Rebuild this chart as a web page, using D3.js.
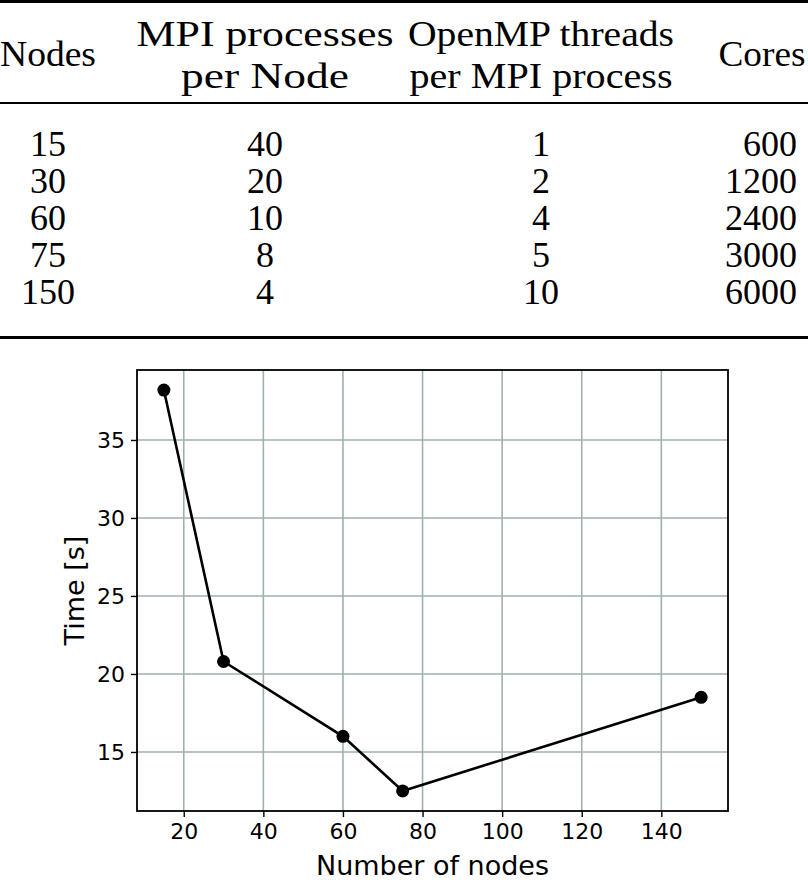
<!DOCTYPE html>
<html>
<head>
<meta charset="utf-8">
<script src="https://cdn.jsdelivr.net/npm/d3@7"></script>
<style>
  body { margin: 0; background: #fff; }
  svg { display: block; }
</style>
</head>
<body>
<div id="chart"></div>
<script>
// table data
const headers = [["Nodes"], ["MPI processes", "per Node"], ["OpenMP threads", "per MPI process"], ["Cores"]];
const nodes = [15, 30, 60, 75, 150];
const mpiPerNode = [40, 20, 10, 8, 4];
const threadsPerProc = [1, 2, 4, 5, 10];
const cores = [600, 1200, 2400, 3000, 6000];

// timing data
const timeSec = [38.2, 20.8, 16.0, 12.5, 18.5];
const xTicks = [20, 40, 60, 80, 100, 120, 140];
const yTicks = [15, 20, 25, 30, 35];

const width = 808,
      height = 894;

const svg = d3.select('#chart').append('svg')
    .attr("width", width)
    .attr("height", height);

// ---- table ----
const serif = "'Liberation Serif', 'DejaVu Serif', serif";
const colX = [48, 265, 541, 762];
// header line widths, computer modern runs wider than times
const headWidths = [[96], [257, 168], [266, 263], [87]];
const rowY = d3.scaleLinear().domain([0, 4]).range([156, 304]);

svg.append("rect").attr("x", 0).attr("y", 0).attr("width", width).attr("height", 3).attr("fill", "#000");
svg.append("rect").attr("x", 0).attr("y", 102).attr("width", width).attr("height", 2).attr("fill", "#000");
svg.append("rect").attr("x", 0).attr("y", 336).attr("width", width).attr("height", 3).attr("fill", "#000");

const head = svg.append("g").style("font-family", serif).style("font-size", "36px");
headers.forEach(function (lines, i) {
  lines.forEach(function (s, j) {
    head.append("text")
        .attr("x", colX[i])
        .attr("y", lines.length == 1 ? 66 : 46 + j * 42)
        .attr("text-anchor", "middle")
        .attr("textLength", headWidths[i][j])
        .attr("lengthAdjust", "spacingAndGlyphs")
        .text(s);
  });
});

const rows = nodes.map((n, i) => [n, mpiPerNode[i], threadsPerProc[i], cores[i]]);
const body = svg.append("g").style("font-family", serif).style("font-size", "36px");
rows.forEach(function (r, i) {
  r.forEach(function (v, j) {
    body.append("text")
        .attr("x", j == 3 ? 797 : colX[j])
        .attr("y", rowY(i))
        .attr("text-anchor", j == 3 ? "end" : "middle")
        .text(v);
  });
});

// ---- plot ----
const pLeft = 137, pRight = 728, pTop = 370, pBottom = 811;
const pad = 0.05;
const xr = d3.extent(nodes), yr = d3.extent(timeSec);
const x = d3.scaleLinear()
    .domain([xr[0] - pad * (xr[1] - xr[0]), xr[1] + pad * (xr[1] - xr[0])])
    .range([pLeft, pRight]);
const y = d3.scaleLinear()
    .domain([yr[0] - pad * (yr[1] - yr[0]), yr[1] + pad * (yr[1] - yr[0])])
    .range([pBottom, pTop]);

const plot = svg.append("g");
const gridColor = "#9fb0ae";

plot.selectAll(".gx").data(xTicks).enter().append("line")
    .attr("x1", d => x(d)).attr("x2", d => x(d))
    .attr("y1", pTop).attr("y2", pBottom)
    .attr("stroke", gridColor).attr("stroke-width", 1.6);
plot.selectAll(".gy").data(yTicks).enter().append("line")
    .attr("x1", pLeft).attr("x2", pRight)
    .attr("y1", d => y(d)).attr("y2", d => y(d))
    .attr("stroke", gridColor).attr("stroke-width", 1.6);

const xAxis = plot.append("g")
    .attr("transform", "translate(0," + pBottom + ")")
    .call(d3.axisBottom(x).tickValues(xTicks).tickSize(6).tickPadding(6));
const yAxis = plot.append("g")
    .attr("transform", "translate(" + pLeft + ",0)")
    .call(d3.axisLeft(y).tickValues(yTicks).tickSize(6).tickPadding(6));

[xAxis, yAxis].forEach(function (a) {
  a.select(".domain").remove();
  a.selectAll("line").attr("stroke", "#000").attr("stroke-width", 1.4);
  a.selectAll("text")
      .style("font-family", "'DejaVu Sans', sans-serif")
      .style("font-size", "22px")
      .attr("fill", "#000");
});

plot.append("rect")
    .attr("x", pLeft).attr("y", pTop)
    .attr("width", pRight - pLeft).attr("height", pBottom - pTop)
    .attr("fill", "none").attr("stroke", "#000").attr("stroke-width", 1.8);

const line = d3.line()
    .x((d, i) => x(nodes[i]))
    .y(d => y(d));

plot.append("path")
    .datum(timeSec)
    .attr("d", line)
    .attr("fill", "none")
    .attr("stroke", "#000")
    .attr("stroke-width", 2.6);

plot.selectAll(".pt").data(timeSec).enter().append("circle")
    .attr("cx", (d, i) => x(nodes[i]))
    .attr("cy", d => y(d))
    .attr("r", 6.5)
    .attr("fill", "#000");

plot.append("text")
    .attr("x", (pLeft + pRight) / 2)
    .attr("y", 875)
    .attr("text-anchor", "middle")
    .style("font-family", "'DejaVu Sans', sans-serif")
    .style("font-size", "27px")
    .text("Number of nodes");

plot.append("text")
    .attr("transform", "translate(84," + ((pTop + pBottom) / 2) + ") rotate(-90)")
    .attr("text-anchor", "middle")
    .style("font-family", "'DejaVu Sans', sans-serif")
    .style("font-size", "27px")
    .text("Time [s]");
</script>
</body>
</html>
